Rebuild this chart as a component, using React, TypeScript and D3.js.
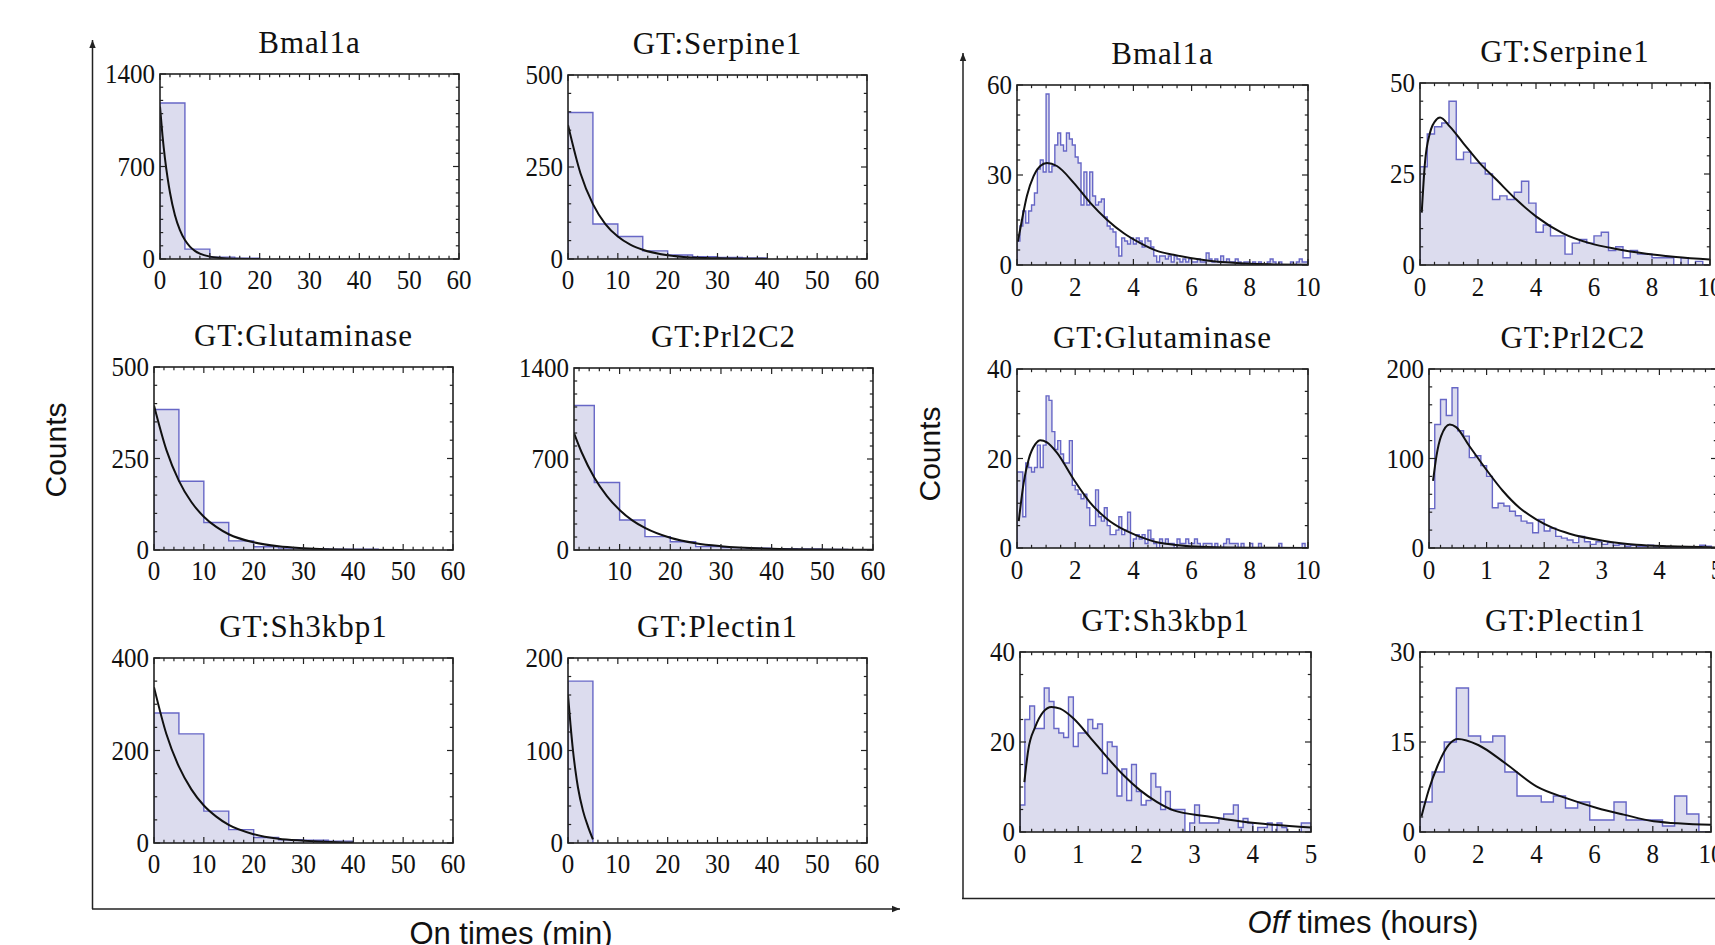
import React from "react";
import * as d3 from "d3";

// ---------- On times (minutes), 5 min bins ----------
const onBinWidth = 5;

const bmalOnCounts = [1180, 75, 14, 6];
const bmalOnFitX = [0, 0.5, 1, 1.5, 2, 3, 4, 5, 6, 7, 8, 10, 12, 15, 20];
const bmalOnFitY = [1154, 934, 760, 619, 503, 331, 218, 143, 94, 62, 41, 18, 8, 2, 0.3];

const serpOnCounts = [398, 95, 61, 22, 11, 6, 4, 3];
const serpOnFitX = [0, 2.5, 5, 7.5, 10, 12.5, 15, 20, 25, 30, 40];
const serpOnFitY = [364, 233, 149, 95, 61, 39, 25, 10, 4, 2, 0.3];

const glutOnCounts = [384, 188, 75, 25, 9, 5, 3, 2, 2, 1];
const glutOnFitX = [0, 2.5, 5, 7.5, 10, 12.5, 15, 20, 25, 30, 40, 50];
const glutOnFitY = [395, 273, 189, 131, 91, 63, 43, 21, 10, 5, 1, 0.3];

const prlOnCounts = [1112, 519, 231, 103, 64, 26, 18, 13, 10, 8, 5, 3];
const prlOnFitX = [1, 2.5, 5, 7.5, 10, 12.5, 15, 20, 25, 30, 40, 50, 60];
const prlOnFitY = [899, 752, 558, 415, 308, 228, 170, 94, 52, 29, 9, 3, 1];

const shOnCounts = [281, 236, 69, 29, 12, 7, 6, 4];
const shOnFitX = [0, 2.5, 5, 7.5, 10, 12.5, 15, 20, 25, 30, 40];
const shOnFitY = [337, 235, 165, 116, 81, 57, 39, 19, 9, 5, 1];

const plecOnCounts = [175];
const plecOnFitX = [0, 0.5, 1, 1.5, 2, 3, 4, 5];
const plecOnFitY = [160, 128, 100, 78, 60, 35, 18, 4];

// ---------- Off times (hours) ----------
const bmalOffBin = 0.1;
const bmalOffCounts = [
  8, 13, 18, 14, 18, 20, 24, 32, 35, 31, 57, 31, 33, 40, 44, 40, 38, 44, 42, 40,
  36, 34, 20, 31, 20, 31, 23, 20, 21, 22, 16, 13, 12, 11, 6, 3, 9, 8, 7, 9,
  7, 9, 8, 6, 9, 8, 6, 3, 1, 3, 3, 2, 3, 1, 3, 2, 1, 2, 1, 2,
  1, 1, 2, 1, 1, 4, 2, 1, 2, 1, 3, 1, 2, 1, 1, 2, 1, 0, 1, 1,
  0, 1, 0, 1, 0, 0, 1, 2, 1, 0, 1, 0, 0, 0, 1, 0, 1, 2, 1, 1,
];
const bmalOffFitX = [0.03, 0.17, 0.34, 0.57, 0.8, 1.03, 1.37, 1.95, 2.52, 3.09, 3.67, 4.24, 4.81, 5.38, 6.53, 7.67, 8.82, 10];
const bmalOffFitY = [7.8, 15, 23, 29.6, 33, 34, 33, 27.4, 20.7, 15.1, 10.6, 7.3, 4.7, 3.4, 1.5, 0.6, 0.2, 0.1];

const serpOffBin = 0.25;
const serpOffCounts = [
  27, 36, 38, 39, 45, 29, 31, 28, 28, 25, 18, 19, 18, 20, 23, 17, 9, 11, 8, 8,
  3, 6, 7, 6, 8, 9, 4, 5, 2, 4, 3, 3, 2, 2, 2, 0, 2, 0, 1, 0,
];
const serpOffFitX = [0.06, 0.17, 0.34, 0.57, 0.69, 1.03, 1.49, 2.06, 2.64, 3.33, 4.01, 4.93, 5.85, 6.77, 7.8, 8.83, 10];
const serpOffFitY = [14.4, 28, 36.2, 40, 40.5, 38, 33.5, 28, 23.4, 17.9, 13.3, 8.7, 6.0, 4.4, 3.1, 2.2, 1.5];

const glutOffBin = 0.1;
const glutOffCounts = [
  17, 17, 7, 19, 18, 17, 18, 23, 18, 23, 34, 33, 26, 22, 24, 21, 19, 19, 24, 14,
  13, 12, 11, 12, 9, 5, 5, 13, 7, 6, 9, 5, 3, 3, 4, 7, 3, 4, 8, 0,
  2, 3, 2, 3, 1, 4, 2, 1, 0, 2, 1, 2, 1, 1, 0, 2, 1, 1, 2, 1,
  1, 2, 1, 0, 1, 1, 1, 0, 1, 0, 0, 1, 2, 1, 1, 1, 0, 1, 0, 0,
  1, 0, 0, 1, 0, 0, 0, 0, 0, 0, 1, 0, 0, 0, 0, 0, 0, 0, 1, 0,
];
const glutOffFitX = [0.06, 0.23, 0.4, 0.63, 0.8, 1.03, 1.37, 1.95, 2.52, 3.09, 3.67, 4.24, 4.81, 5.38, 6.53, 8, 10];
const glutOffFitY = [6, 14.6, 19.8, 23.2, 24.1, 23.6, 21.3, 15.3, 10.1, 6.5, 4.1, 2.5, 1.3, 0.75, 0.2, 0.05, 0];

const prlOffBin = 0.1;
const prlOffCounts = [
  44, 138, 166, 148, 179, 131, 125, 101, 103, 92, 80, 45, 50, 47, 41, 36, 30, 28, 17, 32,
  19, 22, 13, 11, 9, 6, 13, 7, 4, 7, 4, 6, 3, 4, 2, 3, 2, 2, 3, 1,
  2, 1, 1, 0, 1, 0, 1, 3, 2, 0,
];
const prlOffFitX = [0.07, 0.13, 0.21, 0.36, 0.47, 0.7, 0.99, 1.28, 1.57, 1.86, 2.15, 2.44, 3.02, 3.6, 4.17, 5];
const prlOffFitY = [75, 103, 125, 138, 135, 114, 88, 64, 45, 32, 22.4, 16, 8.2, 3.7, 1.9, 0.6];

const shOffBin = 1 / 12;
const shOffCounts = [
  6, 25, 28, 23, 23, 32, 29, 23, 22, 21, 30, 19, 22, 22, 25, 23, 24, 13, 20, 19,
  8, 14, 7, 15, 9, 6, 7, 13, 10, 5, 9, 5, 5, 5, 0, 2, 6, 2, 2, 2,
  2, 3, 4, 4, 6, 1, 3, 2, 0, 1, 1, 2, 0, 2, 1, 0, 0, 0, 2, 2,
];
const shOffFitX = [0.075, 0.14, 0.26, 0.4, 0.54, 0.69, 0.92, 1.2, 1.49, 1.78, 2.06, 2.35, 2.64, 3.21, 3.78, 4.36, 5];
const shOffFitY = [11.1, 18.1, 23.3, 26.7, 27.8, 27.4, 25.2, 21.1, 16.7, 12.6, 9.3, 6.7, 4.8, 3.5, 2.4, 1.6, 1.0];

const plecOffBin = 10 / 24;
const plecOffCounts = [5, 10, 15, 24, 16, 15, 16, 10, 6, 6, 5, 6, 4, 5, 2, 2, 5, 2, 2, 2, 1, 6, 3, 0];
const plecOffFitX = [0.05, 0.3, 0.6, 1.0, 1.3, 2.0, 2.92, 4.0, 5.05, 6.08, 7.0, 8.03, 10];
const plecOffFitY = [2.6, 7, 11, 14.6, 15.5, 14.5, 11.5, 7.6, 5.6, 4.0, 2.9, 1.8, 1.2];

// tick labels
const onXTicks = [0, 10, 20, 30, 40, 50, 60];
const prlOnXTicks = [10, 20, 30, 40, 50, 60];
const offXTicks10 = [0, 2, 4, 6, 8, 10];
const offXTicks5 = [0, 1, 2, 3, 4, 5];

const titles = ["Bmal1a", "GT:Serpine1", "GT:Glutaminase", "GT:Prl2C2", "GT:Sh3kbp1", "GT:Plectin1"];

type Box = { x: number; y: number; w: number; h: number };

type Spec = {
  title: string;
  box: Box;
  counts: number[];
  binWidth: number;
  fitX: number[];
  fitY: number[];
  xDomain: [number, number];
  xTicks: number[];
  yTicks: number[];
  xMinor: number;
  yMinor: number;
  labelGap: number;
};

// layout of the frames (pixels)
const onBoxes: Box[] = [
  { x: 160, y: 74, w: 299, h: 185 },
  { x: 568, y: 75, w: 299, h: 184 },
  { x: 154, y: 367, w: 299, h: 183 },
  { x: 574, y: 368, w: 299, h: 182 },
  { x: 154, y: 658, w: 299, h: 185 },
  { x: 568, y: 658, w: 299, h: 185 },
];
const offBoxes: Box[] = [
  { x: 1017, y: 85, w: 291, h: 180 },
  { x: 1420, y: 83, w: 290, h: 182 },
  { x: 1017, y: 369, w: 291, h: 179 },
  { x: 1429, y: 369, w: 288, h: 179 },
  { x: 1020, y: 652, w: 291, h: 180 },
  { x: 1420, y: 652, w: 291, h: 180 },
];

const specs: Spec[] = [
  { title: titles[0], box: onBoxes[0], counts: bmalOnCounts, binWidth: onBinWidth, fitX: bmalOnFitX, fitY: bmalOnFitY, xDomain: [0, 60], xTicks: onXTicks, yTicks: [0, 700, 1400], xMinor: 2, yMinor: 100, labelGap: 30 },
  { title: titles[1], box: onBoxes[1], counts: serpOnCounts, binWidth: onBinWidth, fitX: serpOnFitX, fitY: serpOnFitY, xDomain: [0, 60], xTicks: onXTicks, yTicks: [0, 250, 500], xMinor: 2, yMinor: 50, labelGap: 30 },
  { title: titles[2], box: onBoxes[2], counts: glutOnCounts, binWidth: onBinWidth, fitX: glutOnFitX, fitY: glutOnFitY, xDomain: [0, 60], xTicks: onXTicks, yTicks: [0, 250, 500], xMinor: 2, yMinor: 50, labelGap: 30 },
  { title: titles[3], box: onBoxes[3], counts: prlOnCounts, binWidth: onBinWidth, fitX: prlOnFitX, fitY: prlOnFitY, xDomain: [1, 60], xTicks: prlOnXTicks, yTicks: [0, 700, 1400], xMinor: 2, yMinor: 100, labelGap: 30 },
  { title: titles[4], box: onBoxes[4], counts: shOnCounts, binWidth: onBinWidth, fitX: shOnFitX, fitY: shOnFitY, xDomain: [0, 60], xTicks: onXTicks, yTicks: [0, 200, 400], xMinor: 2, yMinor: 50, labelGap: 30 },
  { title: titles[5], box: onBoxes[5], counts: plecOnCounts, binWidth: onBinWidth, fitX: plecOnFitX, fitY: plecOnFitY, xDomain: [0, 60], xTicks: onXTicks, yTicks: [0, 100, 200], xMinor: 2, yMinor: 20, labelGap: 30 },
  { title: titles[0], box: offBoxes[0], counts: bmalOffCounts, binWidth: bmalOffBin, fitX: bmalOffFitX, fitY: bmalOffFitY, xDomain: [0, 10], xTicks: offXTicks10, yTicks: [0, 30, 60], xMinor: 0.5, yMinor: 5, labelGap: 31 },
  { title: titles[1], box: offBoxes[1], counts: serpOffCounts, binWidth: serpOffBin, fitX: serpOffFitX, fitY: serpOffFitY, xDomain: [0, 10], xTicks: offXTicks10, yTicks: [0, 25, 50], xMinor: 0.5, yMinor: 5, labelGap: 31 },
  { title: titles[2], box: offBoxes[2], counts: glutOffCounts, binWidth: glutOffBin, fitX: glutOffFitX, fitY: glutOffFitY, xDomain: [0, 10], xTicks: offXTicks10, yTicks: [0, 20, 40], xMinor: 0.5, yMinor: 5, labelGap: 31 },
  { title: titles[3], box: offBoxes[3], counts: prlOffCounts, binWidth: prlOffBin, fitX: prlOffFitX, fitY: prlOffFitY, xDomain: [0, 5], xTicks: offXTicks5, yTicks: [0, 100, 200], xMinor: 0.2, yMinor: 20, labelGap: 31 },
  { title: titles[4], box: offBoxes[4], counts: shOffCounts, binWidth: shOffBin, fitX: shOffFitX, fitY: shOffFitY, xDomain: [0, 5], xTicks: offXTicks5, yTicks: [0, 20, 40], xMinor: 0.2, yMinor: 5, labelGap: 31 },
  { title: titles[5], box: offBoxes[5], counts: plecOffCounts, binWidth: plecOffBin, fitX: plecOffFitX, fitY: plecOffFitY, xDomain: [0, 10], xTicks: offXTicks10, yTicks: [0, 15, 30], xMinor: 0.5, yMinor: 2.5, labelGap: 31 },
];

const serif = "'Liberation Serif', 'Times New Roman', serif";
const sans = "'Liberation Sans', Arial, sans-serif";
const fillCol = "#dcdcee";
const edgeCol = "#6767c6";
const frameCol = "#222";

function minorTicks(d0: number, d1: number, step: number, majors: number[]) {
  const start = Math.ceil(d0 / step - 1e-9) * step;
  return d3.range(start, d1 + 1e-9, step).filter((v) => !majors.some((m) => Math.abs(m - v) < 1e-6));
}

function Panel({ spec, id }: { spec: Spec; id: string }) {
  const { box } = spec;
  const x = d3.scaleLinear().domain(spec.xDomain).range([box.x, box.x + box.w]);
  const yMax = spec.yTicks[spec.yTicks.length - 1];
  const y = d3.scaleLinear().domain([0, yMax]).range([box.y + box.h, box.y]);

  const pts: [number, number][] = [[0, 0]];
  spec.counts.forEach((c, i) => {
    const a = i * spec.binWidth;
    pts.push([a, c], [a + spec.binWidth, c]);
  });
  pts.push([spec.counts.length * spec.binWidth, 0]);

  const area = d3.area<[number, number]>().x((d) => x(d[0])).y0(y(0)).y1((d) => y(d[1]));
  const step = d3.line<[number, number]>().x((d) => x(d[0])).y((d) => y(d[1]));
  const fitPts: [number, number][] = spec.fitX.map((v, i) => [v, spec.fitY[i]]);
  const fit = d3.line<[number, number]>().x((d) => x(d[0])).y((d) => y(d[1])).curve(d3.curveMonotoneX);

  const xMin = minorTicks(spec.xDomain[0], spec.xDomain[1], spec.xMinor, spec.xTicks);
  const yMin = minorTicks(0, yMax, spec.yMinor, spec.yTicks);
  const bottom = box.y + box.h;
  const right = box.x + box.w;
  const major = 6;
  const minor = 3.2;

  return (
    <g>
      <defs>
        <clipPath id={id}>
          <rect x={box.x} y={box.y} width={box.w} height={box.h} />
        </clipPath>
      </defs>
      <g clipPath={`url(#${id})`}>
        <path d={area(pts) ?? ""} fill={fillCol} />
        <path d={step(pts) ?? ""} fill="none" stroke={edgeCol} strokeWidth={1.4} />
        <path d={fit(fitPts) ?? ""} fill="none" stroke="#111" strokeWidth={2} />
      </g>
      <g stroke={frameCol} strokeWidth={1.2}>
        {spec.xTicks.map((t) => (
          <g key={"xm" + t}>
            <line x1={x(t)} x2={x(t)} y1={bottom} y2={bottom - major} />
            <line x1={x(t)} x2={x(t)} y1={box.y} y2={box.y + major} />
          </g>
        ))}
        {xMin.map((t) => (
          <g key={"xn" + t}>
            <line x1={x(t)} x2={x(t)} y1={bottom} y2={bottom - minor} />
            <line x1={x(t)} x2={x(t)} y1={box.y} y2={box.y + minor} />
          </g>
        ))}
        {spec.yTicks.map((t) => (
          <g key={"ym" + t}>
            <line x1={box.x} x2={box.x + major} y1={y(t)} y2={y(t)} />
            <line x1={right} x2={right - major} y1={y(t)} y2={y(t)} />
          </g>
        ))}
        {yMin.map((t) => (
          <g key={"yn" + t}>
            <line x1={box.x} x2={box.x + minor} y1={y(t)} y2={y(t)} />
            <line x1={right} x2={right - minor} y1={y(t)} y2={y(t)} />
          </g>
        ))}
      </g>
      <rect x={box.x} y={box.y} width={box.w} height={box.h} fill="none" stroke={frameCol} strokeWidth={1.6} />
      <g fontFamily={serif} fontSize={25} fill="#111">
        {spec.xTicks.map((t) => (
          <text
            key={"xl" + t}
            transform={`translate(${x(t)},${bottom + spec.labelGap}) scale(1,1.1)`}
            textAnchor="middle"
          >
            {t}
          </text>
        ))}
        {spec.yTicks.map((t) => (
          <text
            key={"yl" + t}
            transform={`translate(${box.x - 5},${y(t) + 9}) scale(1,1.1)`}
            textAnchor="end"
          >
            {t}
          </text>
        ))}
      </g>
      <text
        x={box.x + box.w / 2}
        y={box.y - 21}
        textAnchor="middle"
        fontFamily={serif}
        fontSize={31}
        letterSpacing={1}
        fill="#111"
      >
        {spec.title}
      </text>
    </g>
  );
}

export default function App() {
  return (
    <svg
      width={1715}
      height={945}
      style={{ position: "absolute", left: 0, top: 0, display: "block", background: "#fff" }}
    >
      <defs>
        <marker id="arrow" viewBox="0 0 10 10" refX={10} refY={5} markerWidth={8} markerHeight={8} markerUnits="userSpaceOnUse" orient="auto">
          <path d="M0,1 L10,5 L0,9 z" fill="#222" />
        </marker>
      </defs>
      {/* big axes */}
      <line x1={92.5} y1={909} x2={92.5} y2={40} stroke="#222" strokeWidth={1.5} markerEnd="url(#arrow)" />
      <line x1={92} y1={909} x2={900} y2={909} stroke="#222" strokeWidth={1.5} markerEnd="url(#arrow)" />
      <line x1={963} y1={899} x2={963} y2={53} stroke="#222" strokeWidth={1.5} markerEnd="url(#arrow)" />
      <line x1={962} y1={898.5} x2={1715} y2={898.5} stroke="#222" strokeWidth={1.5} />

      {specs.map((s, i) => (
        <Panel key={i} spec={s} id={"clip" + i} />
      ))}

      <text transform="translate(66,450) rotate(-90)" textAnchor="middle" fontFamily={sans} fontSize={30} fill="#111">
        Counts
      </text>
      <text transform="translate(940,454) rotate(-90)" textAnchor="middle" fontFamily={sans} fontSize={30} fill="#111">
        Counts
      </text>
      <text x={511} y={944} textAnchor="middle" fontFamily={sans} fontSize={31} fill="#111">
        On times (min)
      </text>
      <text x={1363} y={933} textAnchor="middle" fontFamily={sans} fontSize={31} fill="#111">
        <tspan fontStyle="italic">Off</tspan> times (hours)
      </text>
    </svg>
  );
}
